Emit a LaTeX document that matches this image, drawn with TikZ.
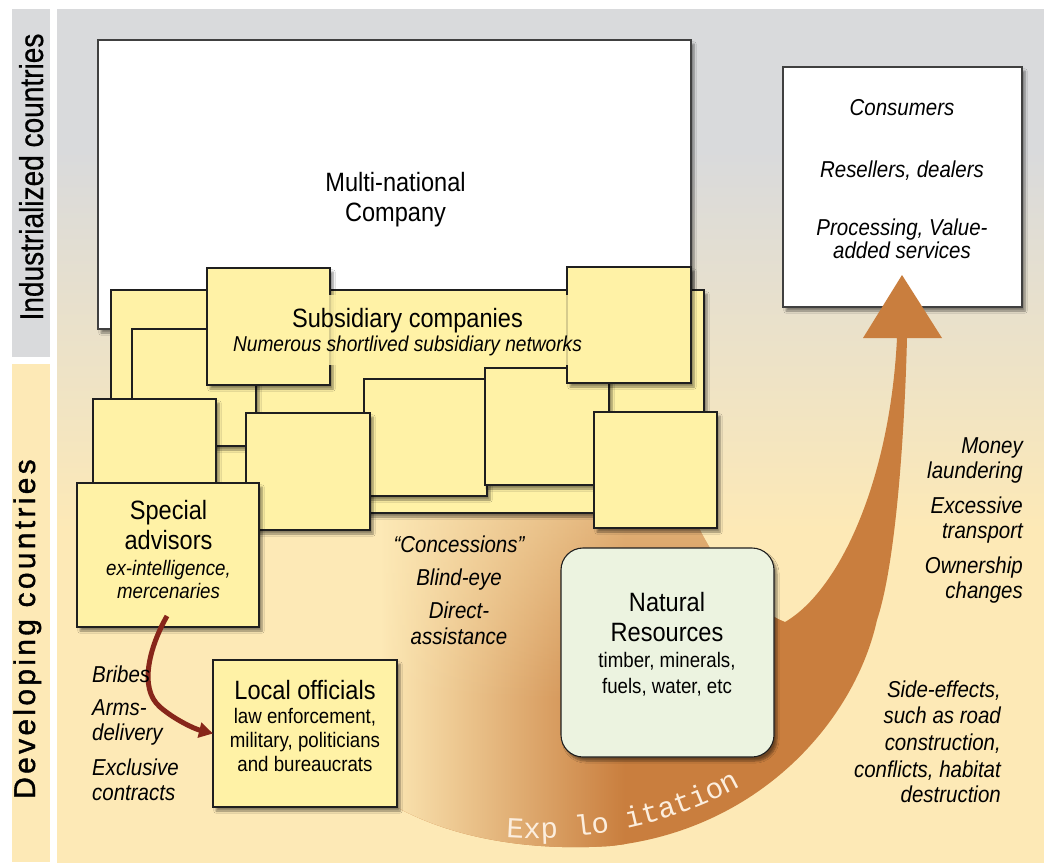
\documentclass[tikz,border=0pt]{standalone}
\usepackage{fontspec}
\setmainfont{Liberation Sans}
\newfontfamily\cond[FakeStretch=0.89]{Liberation Sans}
\newfontfamily\labfont[FakeStretch=0.85,FakeBold=0.6]{Liberation Sans}
\newfontfamily\devfont[LetterSpace=11,FakeBold=1.2]{Liberation Sans}
\newfontfamily\expfont{Liberation Mono}
\usetikzlibrary{shadows,shadows.blur,decorations.text,fadings,arrows.meta}
\definecolor{gbar}{RGB}{217,218,220}
\definecolor{cream}{RGB}{253,233,182}
\definecolor{yel}{RGB}{255,242,166}
\definecolor{nrgreen}{RGB}{236,243,224}
\definecolor{orng}{RGB}{201,126,62}
\definecolor{darkred}{RGB}{135,38,26}
\definecolor{expwhite}{RGB}{252,238,222}
\newcommand\mybox[6]{\node[#1, minimum width={#5-#3}, minimum height={#6-#4}] (#2) at ({(#3+#5)/2},{(#4+#6)/2}) {};}
\def\arrowpath{(897,338) -- (863,338) -- (902,275) -- (942,338) -- (907,338)
  .. controls (905,420) and (897,560) .. (877,620)
  .. controls (855,720) and (760,830) .. (610,846)
  .. controls (520,852) and (430,835) .. (370,790)
  -- (370,470) -- (670,440)
  .. controls (680,510) and (730,600) .. (785,622)
  .. controls (840,590) and (890,480) .. (897,338) -- cycle}
\begin{document}
\begin{tikzpicture}[x=1pt,y=-1pt,
  box/.style={draw=black!88, line width=1.1pt, inner sep=0pt, outer sep=0pt,
    blur shadow={shadow xshift=3pt, shadow yshift=-4pt, shadow blur steps=6, shadow opacity=45}},
  ybox/.style={box, fill=yel},
  wbox/.style={box, fill=white, draw=black!75},
  hd/.style={font=\cond\fontsize{26.5}{30}\selectfont, anchor=base, inner sep=0pt},
  sb/.style={font=\cond\fontsize{21}{24}\selectfont, anchor=base, inner sep=0pt},
  sbi/.style={font=\cond\itshape\fontsize{21}{24}\selectfont, anchor=base, inner sep=0pt},
  lab/.style={font=\cond\itshape\fontsize{23}{26}\selectfont, inner sep=0pt},
  redarr/.style={draw=darkred, line width=5pt, -{Triangle[length=14pt,width=15pt]}}
]
\useasboundingbox (0,0) rectangle (1044,863);
\fill[white] (0,0) rectangle (1044,863);
% background panel
\fill[gbar] (57,9) rectangle (1044,150);
\shade[top color=gbar, bottom color=cream] (57,149) rectangle (1044,531);
\fill[cream] (57,530) rectangle (1044,863);
% side bars
\fill[gbar] (12,9) rectangle (50,357);
\fill[cream] (12,364) rectangle (50,862);
\node[rotate=90, anchor=base, inner sep=0pt, font=\labfont\fontsize{33}{33}\selectfont] (ind) at (43,177) {Industrialized countries};
\node[rotate=90, anchor=base, inner sep=0pt, font=\devfont\fontsize{30}{30}\selectfont] (dev) at (35,629) {Developing countries};
% multinational + consumers
\mybox{wbox}{mnc}{98}{40}{691}{329}
\node[hd] (mnc1) at (395.5,191) {Multi-national};
\node[hd] (mnc2) at (395.5,221) {Company};
\mybox{wbox}{cons}{783}{67}{1022}{307}
\node[lab, anchor=base] (c1) at (902,115) {Consumers};
\node[lab, anchor=base] (c2) at (902,177) {Resellers, dealers};
\node[lab, anchor=base] (c3) at (902,235) {Processing, Value-};
\node[lab, anchor=base] (c4) at (902,258) {added services};
% exploitation arrow
\path[fill=orng] \arrowpath;
\begin{scope}
  \clip \arrowpath;
  \fill[cream] (360,430) rectangle (381,860);
  \shade[left color=cream, right color=orng] (380,430) rectangle (625,860);
  \fill[cream, path fading=south, fill opacity=0.7] (360,430) rectangle (720,700);
\end{scope}
% subsidiary boxes
\mybox{ybox}{big}{111}{290}{704}{513}
\mybox{ybox}{sA}{132}{329}{256}{446}
\mybox{ybox}{sF}{364}{379}{487}{496}
\mybox{ybox}{sG}{485}{368}{609}{485}
\mybox{ybox}{sB}{207}{268}{330}{385}
\mybox{ybox}{sC}{567}{267}{691}{383}
\mybox{ybox}{sH}{594}{412}{717}{528}
\mybox{ybox}{sD}{93}{399}{216}{520}
\mybox{ybox}{sE}{246}{413}{370}{530}
\node[fill=yel, fill opacity=0.82, inner sep=0pt, minimum width=362, minimum height=70] (subbg) at (409,330) {};
\node[hd] (s1) at (407.5,327) {Subsidiary companies};
\node[font=\cond\itshape\fontsize{21.5}{24}\selectfont, anchor=base, inner sep=0pt] (s2) at (407.5,351) {Numerous shortlived subsidiary networks};
% special advisors
\mybox{ybox}{sa}{77}{483}{259}{627}
\node[hd] (sa1) at (168.5,519) {Special};
\node[hd] (sa2) at (168.5,549) {advisors};
\node[sbi] (sa3) at (168.5,575) {ex-intelligence,};
\node[sbi] (sa4) at (168.5,598) {mercenaries};
% natural resources
\node[box, fill=nrgreen, rounded corners=22pt, minimum width=213, minimum height=209] (nr) at (667.5,652.5) {};
\node[hd] (nr1) at (667,611) {Natural};
\node[hd] (nr2) at (667,641) {Resources};
\node[sb] (nr3) at (667,667) {timber, minerals,};
\node[sb] (nr4) at (667,693) {fuels, water, etc};
% local officials
\mybox{ybox}{lo}{213}{660}{397}{807}
\node[hd] (lo1) at (305,699) {Local officials};
\node[sb] (lo2) at (305,723) {law enforcement,};
\node[sb] (lo3) at (305,747) {military, politicians};
\node[sb] (lo4) at (305,771) {and bureaucrats};
% red arrow (under the labels)
\coordinate (rstart) at (167,616);
\draw[redarr] (rstart) .. controls (150,646) and (138,688) .. (160,707) .. controls (175,720) and (195,729) .. (lo.west);
% middle labels
\node[lab, anchor=base] (m1) at (459,552) {“Concessions”};
\node[lab, anchor=base] (m2) at (459,585) {Blind-eye};
\node[lab, anchor=base] (m3) at (459,618) {Direct-};
\node[lab, anchor=base] (m4) at (459,644) {assistance};
% left labels
\node[lab, anchor=base west] (l1) at (92,682) {Bribes};
\node[lab, anchor=base west] (l2) at (92,715) {Arms-};
\node[lab, anchor=base west] (l3) at (92,740) {delivery};
\node[lab, anchor=base west] (l4) at (92,775) {Exclusive};
\node[lab, anchor=base west] (l5) at (92,800) {contracts};
% right labels
\node[lab, anchor=base east] (r1) at (1023,453) {Money};
\node[lab, anchor=base east] (r2) at (1023,478) {laundering};
\node[lab, anchor=base east] (r3) at (1023,513) {Excessive};
\node[lab, anchor=base east] (r4) at (1023,538) {transport};
\node[lab, anchor=base east] (r5) at (1023,573) {Ownership};
\node[lab, anchor=base east] (r6) at (1023,598) {changes};
\node[lab, anchor=base east] (e1) at (1001,697) {Side-effects,};
\node[lab, anchor=base east] (e2) at (1001,723) {such as road};
\node[lab, anchor=base east] (e3) at (1001,750) {construction,};
\node[lab, anchor=base east] (e4) at (1001,777) {conflicts, habitat};
\node[lab, anchor=base east] (e5) at (1001,802) {destruction};
% exploitation text
\path[decorate, decoration={text along path, text color=expwhite,
  text={|\expfont\fontsize{29}{29}\selectfont|Exp lo itation}}]
  (506,837) .. controls (585,843) and (680,824) .. (755,778);
\end{tikzpicture}
\end{document}
